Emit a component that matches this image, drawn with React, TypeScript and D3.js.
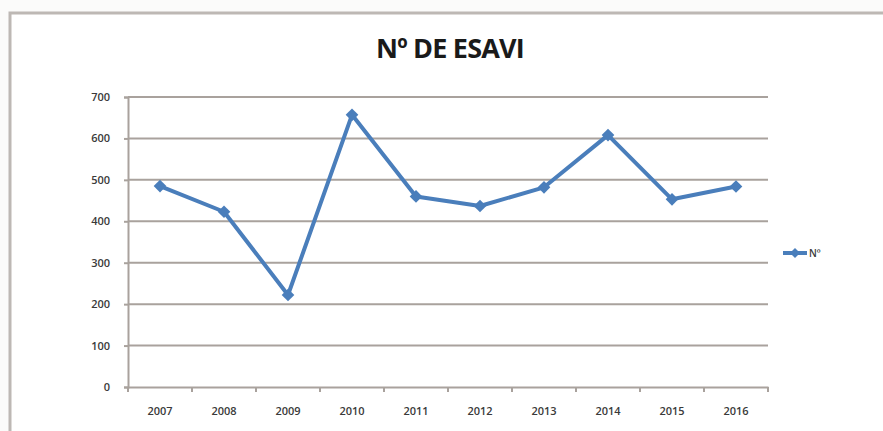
import React, { useRef, useEffect } from "react";
import * as d3 from "d3";

const years = ["2007", "2008", "2009", "2010", "2011", "2012", "2013", "2014", "2015", "2016"];
const esavi = [485, 423, 222, 657, 460, 437, 482, 608, 453, 484];
const yTicks = [0, 100, 200, 300, 400, 500, 600, 700];
const seriesName = "Nº";

export default function App() {
  const ref = useRef<SVGSVGElement>(null);

  useEffect(() => {
    const width = 883;
    const height = 431;
    const left = 128, right = 768, top = 97, bottom = 387;
    const font = "'Open Sans', sans-serif";

    const svg = d3.select(ref.current);
    svg.selectAll("*").remove();
    svg.attr("width", width).attr("height", height);

    svg.append("rect").attr("width", width).attr("height", height).attr("fill", "#fbfbfa");

    // chart frame
    svg.append("rect")
      .attr("x", 10).attr("y", 13)
      .attr("width", width + 20).attr("height", height + 20)
      .attr("fill", "#ffffff")
      .attr("stroke", "#bdb8b4")
      .attr("stroke-width", 3);

    svg.append("text")
      .attr("x", 450).attr("y", 58)
      .attr("text-anchor", "middle")
      .attr("font-family", font)
      .attr("font-weight", "bold")
      .attr("font-size", 27)
      .attr("letter-spacing", -0.8)
      .attr("fill", "#1a1a1a")
      .text("Nº DE ESAVI");

    const x = d3.scaleBand().domain(years).range([left, right]);
    const y = d3.scaleLinear().domain([0, 700]).range([bottom, top]);

    // gridlines
    svg.append("g").selectAll("line")
      .data(yTicks.filter(d => d > 0))
      .join("line")
      .attr("x1", left).attr("x2", right)
      .attr("y1", d => y(d)).attr("y2", d => y(d))
      .attr("stroke", "#a9a29d")
      .attr("stroke-width", 2);

    const yAxis = svg.append("g")
      .attr("transform", `translate(${left},0)`)
      .call(d3.axisLeft(y).tickValues(yTicks).tickSize(4).tickPadding(14));
    yAxis.select(".domain").attr("stroke", "#a9a29d").attr("stroke-width", 2);
    yAxis.selectAll(".tick line").attr("stroke", "#a9a29d").attr("stroke-width", 2);
    yAxis.selectAll("text")
      .attr("font-family", font)
      .attr("font-weight", 600)
      .attr("font-size", 11)
      .attr("fill", "#3a3a3a");

    const xAxis = svg.append("g")
      .attr("transform", `translate(0,${bottom})`)
      .call(d3.axisBottom(x).tickSize(0).tickPadding(20));
    xAxis.select(".domain").attr("stroke", "#a9a29d").attr("stroke-width", 2);
    xAxis.selectAll("text")
      .attr("font-family", font)
      .attr("font-weight", 600)
      .attr("font-size", 11)
      .attr("fill", "#3a3a3a");

    // category boundary ticks
    svg.append("g").selectAll("line")
      .data(years.map(d => x(d)!).concat([right]))
      .join("line")
      .attr("x1", d => d).attr("x2", d => d)
      .attr("y1", bottom).attr("y2", bottom + 5)
      .attr("stroke", "#a9a29d")
      .attr("stroke-width", 2);

    const cx = (d: string) => x(d)! + x.bandwidth() / 2;
    const line = d3.line<number>()
      .x((d, i) => cx(years[i]))
      .y(d => y(d));

    svg.append("path")
      .datum(esavi)
      .attr("d", line)
      .attr("fill", "none")
      .attr("stroke", "#4a7ebb")
      .attr("stroke-width", 4)
      .attr("stroke-linejoin", "round");

    // square diamonds (rotated squares)
    const marker = d3.symbol().type(d3.symbolSquare).size(80);
    svg.append("g").selectAll("path")
      .data(esavi)
      .join("path")
      .attr("d", marker)
      .attr("transform", (d, i) => `translate(${cx(years[i])},${y(d)}) rotate(45)`)
      .attr("fill", "#4a7ebb");

    // legend
    const lg = svg.append("g").attr("transform", "translate(783,253)");
    lg.append("line").attr("x1", 0).attr("x2", 24).attr("stroke", "#4a7ebb").attr("stroke-width", 4);
    lg.append("path").attr("d", marker).attr("transform", "translate(12,0) rotate(45) scale(0.8)").attr("fill", "#4a7ebb");
    lg.append("text")
      .attr("x", 26).attr("y", 4)
      .attr("font-family", font)
      .attr("font-weight", 600)
      .attr("font-size", 10)
      .attr("fill", "#3a3a3a")
      .text(seriesName);
  }, []);

  return <svg ref={ref} style={{ position: "absolute", left: 0, top: 0 }}></svg>;
}
